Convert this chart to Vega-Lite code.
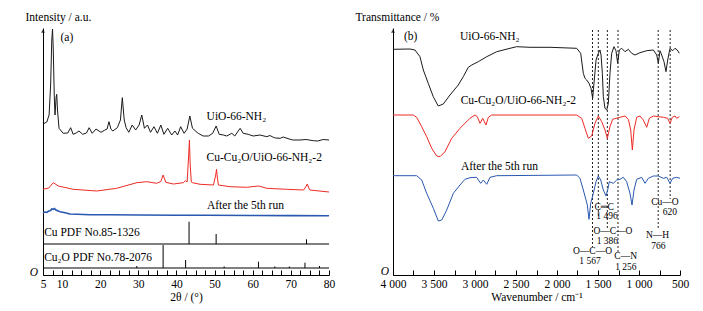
{
  "$schema": "https://vega.github.io/schema/vega-lite/v6.json",
  "background": "white",
  "padding": {"left": 25, "top": 11, "right": 5, "bottom": 5},
  "spacing": 64,
  "bounds": "flush",
  "config": {"font": "Liberation Serif", "view": {"stroke": null}},
  "datasets": {
    "xrdUio": [
      {"t":5.0,"v":151},{"t":6.0,"v":153},{"t":6.6,"v":160},{"t":7.0,"v":190},{"t":7.3,"v":235},{"t":7.5,"v":246},{"t":7.7,"v":225},{"t":7.95,"v":180},{"t":8.15,"v":160},{"t":8.45,"v":178},{"t":8.6,"v":180.7},{"t":8.8,"v":165},{"t":9.2,"v":146.7},{"t":10.3,"v":141.7},{"t":11.5,"v":142},{"t":12.26,"v":147.3},{"t":12.9,"v":140.7},{"t":13.7,"v":142},{"t":14.44,"v":144},{"t":15.4,"v":140.7},{"t":16.4,"v":142},{"t":17.1,"v":147.3},{"t":17.9,"v":141.7},{"t":18.9,"v":146},{"t":20.2,"v":142.7},{"t":21.1,"v":144.7},{"t":21.8,"v":146},{"t":22.3,"v":153.3},{"t":22.8,"v":146},{"t":23.3,"v":144},{"t":24.5,"v":147.3},{"t":25.3,"v":155},{"t":25.8,"v":177.3},{"t":26.3,"v":155},{"t":26.8,"v":147.3},{"t":27.5,"v":142.7},{"t":28.4,"v":150},{"t":29.3,"v":145},{"t":30.2,"v":150},{"t":30.9,"v":160},{"t":31.6,"v":146.7},{"t":32.4,"v":150},{"t":33.2,"v":142.7},{"t":34.1,"v":148.3},{"t":35.0,"v":141.7},{"t":35.9,"v":150},{"t":36.7,"v":140.7},{"t":37.7,"v":146.7},{"t":38.75,"v":140},{"t":39.6,"v":144},{"t":40.3,"v":140},{"t":41.1,"v":148.3},{"t":42.0,"v":141.7},{"t":42.8,"v":146},{"t":43.5,"v":159},{"t":44.2,"v":146.7},{"t":44.9,"v":144.3},{"t":45.7,"v":141.7},{"t":47.0,"v":139},{"t":48.4,"v":139},{"t":49.5,"v":141.7},{"t":50.4,"v":149},{"t":51.2,"v":140.7},{"t":52.3,"v":140},{"t":53.2,"v":139},{"t":54.5,"v":141.7},{"t":55.3,"v":139},{"t":56.7,"v":146.7},{"t":57.5,"v":141.7},{"t":58.8,"v":140.7},{"t":60.1,"v":139},{"t":61.9,"v":140},{"t":63.7,"v":138.3},{"t":64.5,"v":139.5},{"t":65.4,"v":137.7},{"t":66.0,"v":137},{"t":67.2,"v":136.7},{"t":68.0,"v":138},{"t":69.8,"v":135.7},{"t":70.5,"v":135},{"t":72.4,"v":135},{"t":74.0,"v":135.5},{"t":75.9,"v":134.3},{"t":77.0,"v":134},{"t":78.5,"v":135.5},{"t":80,"v":135}
    ],
    "xrdRed": [
      {"t":5,"v":85.7},{"t":6.5,"v":87},{"t":7.7,"v":92.3},{"t":9.0,"v":89},{"t":12.9,"v":85.7},{"t":19.1,"v":84},{"t":24.3,"v":86.7},{"t":29.6,"v":92.3},{"t":32.2,"v":93.3},{"t":34.8,"v":91.7},{"t":35.9,"v":93.5},{"t":36.5,"v":100},{"t":37.2,"v":92.7},{"t":39.2,"v":91},{"t":41.8,"v":92.3},{"t":42.3,"v":94.3},{"t":42.8,"v":93},{"t":43.2,"v":120},{"t":43.4,"v":135},{"t":43.6,"v":110},{"t":43.9,"v":93},{"t":44.2,"v":92.3},{"t":46.2,"v":90.7},{"t":49.7,"v":90},{"t":50.3,"v":100},{"t":50.5,"v":105.7},{"t":50.7,"v":98},{"t":51.0,"v":90},{"t":54.0,"v":88.3},{"t":58.4,"v":87.7},{"t":61.5,"v":89},{"t":63.7,"v":86.7},{"t":68.9,"v":85.7},{"t":73.3,"v":85},{"t":73.9,"v":88},{"t":74.3,"v":91},{"t":74.7,"v":87},{"t":75.0,"v":85},{"t":80,"v":83}
    ],
    "xrdBlue": [
      {"t":5,"v":62.3},{"t":5.5,"v":63},{"t":6,"v":62.5},{"t":6.5,"v":64},{"t":7,"v":64.5},{"t":7.3,"v":66},{"t":7.7,"v":65.7},{"t":8.0,"v":66.5},{"t":8.4,"v":65},{"t":9.0,"v":64},{"t":9.5,"v":63.3},{"t":10.5,"v":62.5},{"t":12.1,"v":61},{"t":14,"v":60.8},{"t":17.3,"v":60.3},{"t":22,"v":60.2},{"t":30.4,"v":60},{"t":40,"v":59.8},{"t":47.9,"v":59.7},{"t":60,"v":59.5},{"t":70,"v":59.4},{"t":80,"v":59.3}
    ],
    "pdfBase": [
      {"t":5,"t2":80,"v":31},{"t":5,"t2":80,"v":7}
    ],
    "pdfSticks": [
      {"t":43.3,"v":31,"v2":53.3},{"t":50.4,"v":31,"v2":41},{"t":74.1,"v":31,"v2":35.7},
      {"t":29.6,"v":7,"v2":9},{"t":36.5,"v":7,"v2":30},{"t":42.4,"v":7,"v2":15},{"t":52.5,"v":7,"v2":8.5},{"t":61.5,"v":7,"v2":13.3},{"t":65.8,"v":7,"v2":8.5},{"t":69.6,"v":7,"v2":8.5},{"t":73.7,"v":7,"v2":12.3},{"t":77.5,"v":7,"v2":9}
    ],
    "labelsA": [
      {"t":9.6,"v":237,"label":"(a)"},
      {"t":47.9,"v":158,"label":"UiO-66-NH₂"},
      {"t":47.9,"v":116.7,"label":"Cu-Cu₂O/UiO-66-NH₂-2"},
      {"t":48,"v":69,"label":"After the 5th run"},
      {"t":5.3,"v":41.7,"label":"Cu PDF No.85-1326"},
      {"t":5.3,"v":16.7,"label":"Cu₂O PDF No.78-2076"}
    ],
    "irUio": [
      {"t":4000,"v":225.7},{"t":3793,"v":226},{"t":3732,"v":225},{"t":3671,"v":218.3},{"t":3630,"v":205},{"t":3570,"v":191.7},{"t":3509,"v":178.3},{"t":3448,"v":169},{"t":3387,"v":171},{"t":3305,"v":180},{"t":3204,"v":190},{"t":3143,"v":198.3},{"t":3082,"v":207.7},{"t":3040,"v":210},{"t":2960,"v":213.3},{"t":2857,"v":218.3},{"t":2735,"v":223.3},{"t":2573,"v":226.7},{"t":2492,"v":228.3},{"t":2329,"v":227.7},{"t":2085,"v":227.7},{"t":1760,"v":226.7},{"t":1711,"v":221.7},{"t":1679,"v":201.7},{"t":1659,"v":196.7},{"t":1638,"v":195},{"t":1610,"v":191.7},{"t":1585,"v":186.7},{"t":1565,"v":176.7},{"t":1549,"v":191.7},{"t":1524,"v":215},{"t":1496,"v":221.7},{"t":1476,"v":225},{"t":1463,"v":220},{"t":1447,"v":201.7},{"t":1435,"v":178.3},{"t":1415,"v":166.7},{"t":1394,"v":165},{"t":1374,"v":171.7},{"t":1354,"v":201.7},{"t":1333,"v":221.7},{"t":1305,"v":228.3},{"t":1281,"v":224.3},{"t":1260,"v":211.7},{"t":1240,"v":225},{"t":1211,"v":226.7},{"t":1171,"v":223.3},{"t":1130,"v":225.7},{"t":1089,"v":221.7},{"t":1049,"v":220},{"t":988,"v":222.3},{"t":906,"v":224.3},{"t":825,"v":225},{"t":784,"v":220},{"t":764,"v":211.7},{"t":744,"v":224.3},{"t":723,"v":220},{"t":695,"v":213.3},{"t":671,"v":203.3},{"t":650,"v":215},{"t":622,"v":226.7},{"t":589,"v":224.3},{"t":561,"v":226.7},{"t":533,"v":225},{"t":508,"v":221.7}
    ],
    "irRed": [
      {"t":4000,"v":160},{"t":3752,"v":160},{"t":3711,"v":157.7},{"t":3650,"v":148.3},{"t":3589,"v":138.3},{"t":3528,"v":126.7},{"t":3467,"v":119},{"t":3427,"v":118.3},{"t":3366,"v":123.3},{"t":3284,"v":136.7},{"t":3183,"v":146.7},{"t":3061,"v":156.7},{"t":3000,"v":160},{"t":2972,"v":158.3},{"t":2939,"v":151.7},{"t":2906,"v":156.7},{"t":2866,"v":150},{"t":2837,"v":157.7},{"t":2796,"v":160},{"t":2085,"v":160},{"t":1760,"v":160},{"t":1699,"v":156.7},{"t":1659,"v":146.7},{"t":1618,"v":136.7},{"t":1577,"v":139},{"t":1537,"v":151.7},{"t":1496,"v":159},{"t":1455,"v":153.3},{"t":1415,"v":145},{"t":1386,"v":136.7},{"t":1354,"v":148.3},{"t":1321,"v":155.7},{"t":1281,"v":156.7},{"t":1232,"v":157.7},{"t":1171,"v":159},{"t":1130,"v":155.7},{"t":1101,"v":145},{"t":1081,"v":125},{"t":1061,"v":145},{"t":1028,"v":157.7},{"t":988,"v":159},{"t":947,"v":155},{"t":906,"v":147.7},{"t":874,"v":156.7},{"t":825,"v":159},{"t":764,"v":158.3},{"t":703,"v":157.7},{"t":650,"v":156.7},{"t":622,"v":151.7},{"t":594,"v":157.7},{"t":561,"v":159},{"t":541,"v":156.7},{"t":508,"v":158.3}
    ],
    "irBlue": [
      {"t":4000,"v":99.3},{"t":3711,"v":99.3},{"t":3650,"v":95},{"t":3589,"v":81.7},{"t":3508,"v":66.7},{"t":3447,"v":54},{"t":3406,"v":55},{"t":3345,"v":65},{"t":3264,"v":81.7},{"t":3183,"v":90},{"t":3122,"v":95.7},{"t":3061,"v":97.3},{"t":2980,"v":97.7},{"t":2931,"v":91.7},{"t":2899,"v":95},{"t":2857,"v":90.7},{"t":2817,"v":97.7},{"t":2735,"v":99.3},{"t":1760,"v":100},{"t":1720,"v":96.7},{"t":1679,"v":85},{"t":1646,"v":75},{"t":1630,"v":70},{"t":1610,"v":55.7},{"t":1589,"v":71.7},{"t":1557,"v":81.7},{"t":1524,"v":93.3},{"t":1496,"v":99},{"t":1467,"v":95},{"t":1435,"v":85},{"t":1402,"v":79},{"t":1382,"v":85},{"t":1362,"v":93.3},{"t":1313,"v":91.7},{"t":1272,"v":95},{"t":1232,"v":95.7},{"t":1191,"v":97.7},{"t":1150,"v":93.3},{"t":1110,"v":81.7},{"t":1085,"v":70},{"t":1061,"v":85},{"t":1028,"v":95.7},{"t":967,"v":97.7},{"t":927,"v":91.7},{"t":886,"v":96.7},{"t":825,"v":99},{"t":764,"v":99},{"t":703,"v":96.7},{"t":662,"v":97.7},{"t":622,"v":91.7},{"t":589,"v":96.7},{"t":541,"v":97.7},{"t":500,"v":96.7}
    ],
    "dotted": [
      {"t":1567,"v":245,"v2":28},{"t":1496,"v":245,"v2":58},{"t":1386,"v":245,"v2":46},{"t":1256,"v":245,"v2":23},{"t":766,"v":245,"v2":45},{"t":620,"v":245,"v2":76}
    ],
    "labelsB": [
      {"t":3866,"v":238,"label":"(b)"},
      {"t":3183,"v":238,"label":"UiO-66-NH₂"},
      {"t":3175,"v":174,"label":"Cu-Cu₂O/UiO-66-NH₂-2"},
      {"t":3171,"v":108.3,"label":"After the 5th run"}
    ],
    "annB": [
      {"t":1425,"v":68.5,"label":"C═C"},
      {"t":1390,"v":59,"label":"1 496"},
      {"t":1318,"v":44,"label":"O—C—O"},
      {"t":1385,"v":34.5,"label":"1 386"},
      {"t":1567,"v":24.5,"label":"O—C—O"},
      {"t":1597,"v":14.5,"label":"1 567"},
      {"t":1163,"v":19,"label":"C—N"},
      {"t":1160,"v":8.5,"label":"1 256"},
      {"t":774,"v":40.5,"label":"N—H"},
      {"t":764,"v":29,"label":"766"},
      {"t":683,"v":73,"label":"Cu—O"},
      {"t":622,"v":63.5,"label":"620"}
    ]
  },
  "hconcat": [
    {
      "width": 286,
      "height": 247,
      "encoding": {
        "x": {"field": "t", "type": "quantitative",
          "scale": {"domain": [5, 80], "nice": false, "zero": false},
          "axis": {"values": [5,7.5,10,12.5,15,17.5,20,22.5,25,27.5,30,32.5,35,37.5,40,42.5,45,47.5,50,52.5,55,57.5,60,62.5,65,67.5,70,72.5,75,77.5,80],
            "labelExpr": "datum.value == 5 || datum.value % 10 == 0 ? format(datum.value, 'd') : ''",
            "tickSize": -5, "labelPadding": 8, "labelFontSize": 11.5, "labelColor": "#000", "labelFlush": false, "labelOverlap": false,
            "domainColor": "#000", "tickColor": "#000", "grid": false,
            "title": "2θ / (°)", "titleFontSize": 11.5, "titleFontWeight": "normal", "titleColor": "#000", "titlePadding": 2}},
        "y": {"field": "v", "type": "quantitative",
          "scale": {"domain": [0, 247], "nice": false},
          "axis": {"domain": true, "domainColor": "#000", "ticks": false, "labels": false, "grid": false,
            "title": "Intensity / a.u.", "titleAngle": 0, "titleAlign": "left", "titleBaseline": "top",
            "titleX": -18, "titleY": -17, "titleFontSize": 11.5, "titleFontWeight": "normal", "titleColor": "#000"}}
      },
      "layer": [
        {"data": {"name": "pdfBase"}, "mark": {"type": "rule", "color": "#000", "strokeWidth": 1}, "encoding": {"x2": {"field": "t2"}}},
        {"data": {"name": "pdfSticks"}, "mark": {"type": "rule", "color": "#000", "strokeWidth": 1}, "encoding": {"y2": {"field": "v2"}}},
        {"data": {"name": "xrdBlue"}, "mark": {"type": "line", "color": "#2a58b0", "strokeWidth": 1.6}},
        {"data": {"name": "xrdRed"}, "mark": {"type": "line", "color": "#ee2a24", "strokeWidth": 1}},
        {"data": {"name": "xrdUio"}, "mark": {"type": "line", "color": "#1a1a1a", "strokeWidth": 1}},
        {"data": {"name": "labelsA"}, "mark": {"type": "text", "align": "left", "baseline": "middle", "fontSize": 11.5, "color": "#000"}, "encoding": {"text": {"field": "label"}}},
        {"data": {"values": [{"t": 5, "v": 0, "label": "O"}]}, "mark": {"type": "text", "align": "center", "baseline": "middle", "fontSize": 11.5, "fontStyle": "italic", "dx": -9, "dy": -2, "color": "#000"}, "encoding": {"text": {"field": "label"}}},
        {"data": {"values": [{"t": 5, "v": 244}]}, "mark": {"type": "point", "shape": "triangle-up", "size": 16, "filled": true, "color": "#000"}}
      ]
    },
    {
      "width": 287,
      "height": 247,
      "encoding": {
        "x": {"field": "t", "type": "quantitative",
          "scale": {"domain": [500, 4000], "reverse": true, "nice": false, "zero": false},
          "axis": {"values": [4000,3750,3500,3250,3000,2750,2500,2250,2000,1750,1500,1250,1000,750,500],
            "labelExpr": "datum.value % 500 == 0 ? replace(format(datum.value, ','), ',', ' ') : ''",
            "tickSize": -5, "labelPadding": 8, "labelFontSize": 11.5, "labelColor": "#000", "labelFlush": false, "labelOverlap": false,
            "domainColor": "#000", "tickColor": "#000", "grid": false,
            "title": "Wavenumber / cm⁻¹", "titleFontSize": 11.5, "titleFontWeight": "normal", "titleColor": "#000", "titlePadding": 2}},
        "y": {"field": "v", "type": "quantitative",
          "scale": {"domain": [0, 247], "nice": false},
          "axis": {"domain": true, "domainColor": "#000", "ticks": false, "labels": false, "grid": false,
            "title": "Transmittance / %", "titleAngle": 0, "titleAlign": "left", "titleBaseline": "top",
            "titleX": -38, "titleY": -17, "titleFontSize": 11.5, "titleFontWeight": "normal", "titleColor": "#000"}}
      },
      "layer": [
        {"data": {"name": "dotted"}, "mark": {"type": "rule", "color": "#222", "strokeWidth": 1, "strokeDash": [2, 2]}, "encoding": {"y2": {"field": "v2"}}},
        {"data": {"name": "irBlue"}, "mark": {"type": "line", "color": "#2a58b0", "strokeWidth": 1}},
        {"data": {"name": "irRed"}, "mark": {"type": "line", "color": "#ee2a24", "strokeWidth": 1}},
        {"data": {"name": "irUio"}, "mark": {"type": "line", "color": "#1a1a1a", "strokeWidth": 1}},
        {"data": {"name": "labelsB"}, "mark": {"type": "text", "align": "left", "baseline": "middle", "fontSize": 11.5, "color": "#000"}, "encoding": {"text": {"field": "label"}}},
        {"data": {"name": "annB"}, "mark": {"type": "text", "align": "center", "baseline": "middle", "fontSize": 9.5, "color": "#000"}, "encoding": {"text": {"field": "label"}}},
        {"data": {"values": [{"t": 4000, "v": 0, "label": "O"}]}, "mark": {"type": "text", "align": "center", "baseline": "middle", "fontSize": 11.5, "fontStyle": "italic", "dx": -8, "dy": -3, "color": "#000"}, "encoding": {"text": {"field": "label"}}},
        {"data": {"values": [{"t": 4000, "v": 244}]}, "mark": {"type": "point", "shape": "triangle-up", "size": 16, "filled": true, "color": "#000"}}
      ]
    }
  ]
}
